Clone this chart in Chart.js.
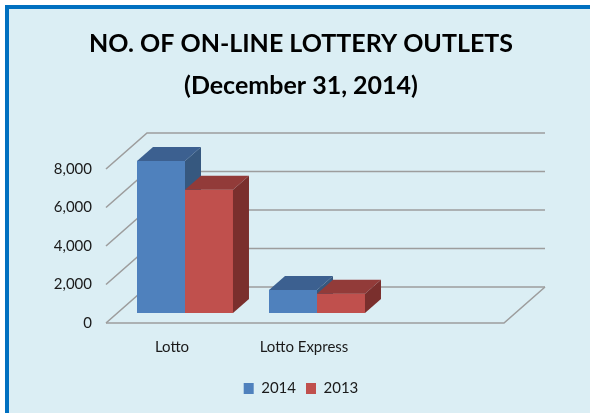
<!DOCTYPE html>
<html>
<head>
<meta charset="utf-8">
<script src="https://cdn.jsdelivr.net/npm/chart.js@4"></script>
<style>
  html, body { margin: 0; padding: 0; background: #fff; overflow: hidden; }
  #frame {
    position: absolute; left: 5px; top: 5px; width: 600px; height: 420px;
    border-left: 4px solid #0070C0; border-top: 4px solid #0070C0;
    background: #DBEEF4;
  }
  #chart { position: absolute; left: 0; top: 0; }
</style>
</head>
<body>
<div id="frame"></div>
<canvas id="chart" width="590" height="413"></canvas>
<script>
const categories = ["Lotto", "Lotto Express"];
const seriesNames = ["2014", "2013"];
const outlets2014 = [7900, 1200];
const outlets2013 = [6400, 1000];
const yTicks = [0, 2000, 4000, 6000, 8000];

const fronts = ["#4F81BD", "#C0504D"];
const tops = ["#3C6090", "#923B39"];
const sides = ["#36587F", "#7A2F2D"];

// oblique 3D look: bar depth, and floor/back wall offsets from the bar plane
const barDepth = { dx: 16, dy: -14 };
const floorFront = { dx: -11, dy: 10 };
const backWall = { dx: 30, dy: -26 };

const fake3d = {
  id: "fake3d",
  beforeDatasetsDraw(chart) {
    const ctx = chart.ctx;
    const y = chart.scales.y;
    const area = chart.chartArea;
    const left = area.left - 2;
    const right = chart.width - 45 - backWall.dx;
    ctx.save();
    ctx.strokeStyle = "#9d9d9d";
    ctx.lineWidth = 1.6;
    yTicks.forEach(function (v) {
      const py = y.getPixelForValue(v);
      ctx.beginPath();
      ctx.moveTo(left + floorFront.dx, py + floorFront.dy);
      ctx.lineTo(left + backWall.dx, py + backWall.dy);
      ctx.lineTo(right + backWall.dx, py + backWall.dy);
      ctx.stroke();
    });
    // floor front edge
    const p0 = y.getPixelForValue(0);
    ctx.beginPath();
    ctx.moveTo(left + floorFront.dx, p0 + floorFront.dy);
    ctx.lineTo(right + floorFront.dx, p0 + floorFront.dy);
    ctx.lineTo(right + backWall.dx, p0 + backWall.dy);
    ctx.stroke();
    ctx.restore();
  },
  afterDatasetsDraw(chart) {
    const ctx = chart.ctx;
    ctx.save();
    categories.forEach(function (c, i) {
      chart.data.datasets.forEach(function (ds, d) {
        const el = chart.getDatasetMeta(d).data[i];
        const x0 = el.x - el.width / 2;
        const x1 = el.x + el.width / 2;
        const top = el.y;
        const base = el.base;
        ctx.fillStyle = fronts[d];
        ctx.fillRect(x0, top, x1 - x0, base - top);
        ctx.fillStyle = tops[d];
        ctx.beginPath();
        ctx.moveTo(x0, top);
        ctx.lineTo(x0 + barDepth.dx, top + barDepth.dy);
        ctx.lineTo(x1 + barDepth.dx, top + barDepth.dy);
        ctx.lineTo(x1, top);
        ctx.closePath();
        ctx.fill();
        ctx.fillStyle = sides[d];
        ctx.beginPath();
        ctx.moveTo(x1, top);
        ctx.lineTo(x1 + barDepth.dx, top + barDepth.dy);
        ctx.lineTo(x1 + barDepth.dx, base + barDepth.dy);
        ctx.lineTo(x1, base);
        ctx.closePath();
        ctx.fill();
      });
    });
    ctx.restore();
  }
};

const ctx = document.getElementById("chart").getContext("2d");
const chart = new Chart(ctx, {
  type: "bar",
  data: {
    labels: categories,
    datasets: [
      { label: seriesNames[0], data: outlets2014, backgroundColor: fronts[0] },
      { label: seriesNames[1], data: outlets2013, backgroundColor: fronts[1] }
    ]
  },
  options: {
    responsive: false,
    animation: false,
    devicePixelRatio: 1,
    categoryPercentage: 0.727,
    barPercentage: 1.0,
    layout: { padding: { top: 0, right: 0, bottom: 7, left: 12 } },
    plugins: {
      title: {
        display: true,
        text: ["NO. OF ON-LINE LOTTERY OUTLETS", "(December 31, 2014)"],
        color: "#000",
        font: { family: "Lato", size: 25, weight: "bold", lineHeight: 1.68 },
        padding: { top: 23, bottom: 52 }
      },
      legend: {
        position: "bottom",
        labels: {
          color: "#1a1a1a",
          font: { family: "Lato", size: 15 },
          boxWidth: 10,
          boxHeight: 11,
          padding: 10
        }
      },
      tooltip: { enabled: false }
    },
    scales: {
      x: {
        grid: { display: false, drawTicks: false },
        border: { display: false },
        ticks: { color: "#1a1a1a", font: { family: "Lato", size: 15 }, padding: 25, labelOffset: -13 },
        afterFit: function (s) { s.height = 58; }
      },
      y: {
        min: 0,
        max: 8000,
        grid: { display: false, drawTicks: false },
        border: { display: false },
        ticks: {
          color: "#1a1a1a",
          font: { family: "Lato", size: 15 },
          padding: 27,
          labelOffset: 10,
          callback: function (v) { return v.toLocaleString("en-US"); }
        },
        afterBuildTicks: function (s) { s.ticks = yTicks.map(function (v) { return { value: v }; }); },
        afterFit: function (s) { s.width = 107; }
      },
      // empty right-hand axis: only reserves the room right of the bars
      yRight: {
        position: "right",
        grid: { display: false, drawTicks: false },
        border: { display: false },
        ticks: { display: false },
        afterFit: function (s) { s.width = 207; }
      }
    }
  },
  plugins: [fake3d]
});
</script>
</body>
</html>
